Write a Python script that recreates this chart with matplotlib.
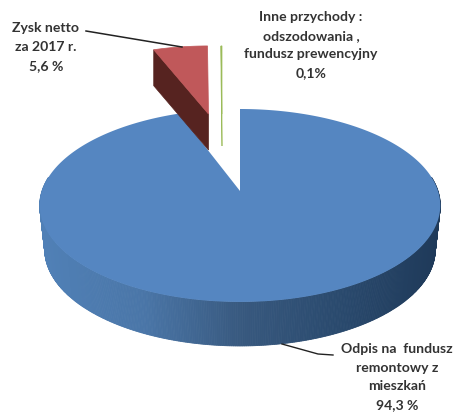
import numpy as np
import matplotlib
matplotlib.use("Agg")
import matplotlib.pyplot as plt
from matplotlib.colors import LinearSegmentedColormap
from matplotlib.patches import Polygon

# Revenue structure, percent
categories = ["Odpis na fundusz remontowy z mieszkań", "Zysk netto za 2017 r.", "Inne przychody"]
shares = [94.3, 5.6, 0.1]
labels = ["Odpis na  fundusz\nremontowy z\nmieszkań\n94,3 %",
          "Zysk netto\nza 2017 r.\n5,6 %",
          "Inne przychody :\nodszodowania ,\nfundusz prewencyjny\n0,1%"]

top_colors = ["#5586c1", "#c0585a", "#9bbb59"]
side_colors = ["#1f3a5a", "#562320", "#9bbb59"]

# Pie projection in pixel space
CX, CY, RX, RY, PERSP = 240.0, 192.0, 198.0, 94.3, 0.15
DEPTH = 44.0


def project(t):
    """Map clockwise angle from 12 o'clock onto the tilted pie plane."""
    u, v = np.sin(t), np.cos(t)
    w = 1 + PERSP * v
    return CX + RX * u / w, CY - RY * v / w


def sector(a0, a1, n=160):
    t = np.linspace(a0, a1, n)
    x, y = project(t)
    return x, y


fig = plt.figure(figsize=(4.59, 4.14), dpi=100)
ax = fig.add_axes([0, 0, 1, 1])
ax.set_xlim(0, 459)
ax.set_ylim(414, 0)
ax.axis("off")

edges = np.concatenate([[0], np.cumsum(shares)]) / sum(shares) * 2 * np.pi

# Main slice: shaded wall along the front rim, then the top face
wall_cmap = LinearSegmentedColormap.from_list(
    "wall", ["#5080b6", "#4a76a8", "#38597f", "#2a4a6e", "#1f3a5a"])
tt = np.linspace(np.pi / 2 - 0.15, 3 * np.pi / 2 + 0.15, 420)
xs, ys = project(tt)
for i in range(len(tt) - 1):
    x0, x1 = xs[i], xs[i + 1]
    bx0, bx1 = CX + 0.975 * (x0 - CX), CX + 0.975 * (x1 - CX)
    quad = [(x0, ys[i]), (x1, ys[i + 1]), (bx1, ys[i + 1] + DEPTH), (bx0, ys[i] + DEPTH)]
    shade = wall_cmap(np.clip((0.5 * (x0 + x1) - 42) / 396, 0, 1))
    ax.add_patch(Polygon(quad, closed=True, facecolor=shade, edgecolor=shade, lw=0.6, zorder=2))

x, y = sector(edges[0], edges[1], 400)
ax.add_patch(Polygon(np.r_[[(CX, CY)], np.c_[x, y]], closed=True,
                     facecolor=top_colors[0], edgecolor="none", zorder=3))


def pulled_slice(i, apex_x, apex_y, depth, sx=0.9, sy=0.83):
    """Draw a slice pulled out from the pie centre: inner wall first, then the top."""
    x, y = sector(edges[i], edges[i + 1], 40)
    px = apex_x + sx * (x - CX)
    py = apex_y + sy * (y - CY)
    wall = [(px[0], py[0]), (apex_x, apex_y), (apex_x, apex_y + depth), (px[0], py[0] + depth)]
    ax.add_patch(Polygon(wall, closed=True, facecolor=side_colors[i],
                         edgecolor=side_colors[i], lw=0.5, zorder=4))
    top = np.r_[[(apex_x, apex_y)], np.c_[px, py]]
    ax.add_patch(Polygon(top, closed=True, facecolor=top_colors[i],
                         edgecolor=top_colors[i], lw=0.5, zorder=5))


pulled_slice(1, 208.5, 115.0, 36.0)
pulled_slice(2, 222.0, 115.0, 32.0)

# Leader lines
ax.plot([86, 182], [32, 48], color="#222222", lw=1.1, zorder=6)
ax.plot([282, 318, 333], [345, 355, 356], color="#222222", lw=1.0, zorder=6)

# Data labels
text_kw = dict(family="Lato", fontsize=10.1, fontweight="bold", color="#333333",
               ha="center", va="center", linespacing=1.66, zorder=7)
ax.text(397, 377, labels[0], **text_kw)
ax.text(46, 47, labels[1], **text_kw)
ax.text(311, 45, labels[2], **text_kw)

fig.savefig("out.png", dpi=100, facecolor="white")
